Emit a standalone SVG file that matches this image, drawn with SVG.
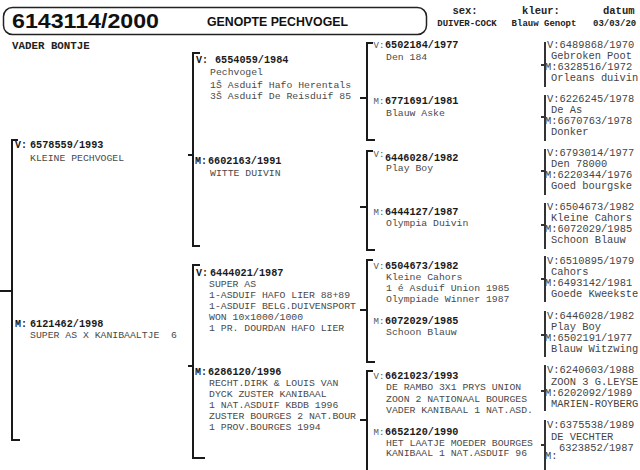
<svg xmlns="http://www.w3.org/2000/svg" width="640" height="470" viewBox="0 0 640 470">
<style>
.bg{fill:#fff}
.hb{font-family:"Liberation Sans",Arial,sans-serif;font-weight:bold;fill:#111}
.m{font-family:"Liberation Mono","Courier New",monospace}
.hd{font-weight:bold;font-size:10.5px;fill:#222}
.hv{font-weight:bold;font-size:9px;fill:#222}
.vb{font-weight:bold;font-size:10px;fill:#1a1a1a}
.n{font-weight:bold;font-size:10.2px;fill:#1a1a1a}
.t{font-size:9.8px;fill:#4a4a4a}
.l{font-size:9px;fill:#555}
.c4{font-size:10.4px;fill:#444}
.br{fill:none;stroke:#1a1a1a;stroke-width:2}
.br4{fill:none;stroke:#333;stroke-width:2}
</style>
<rect class="bg" x="0" y="0" width="640" height="470"/>
<g id="header">
<rect x="3.5" y="7.5" width="423" height="27" rx="9" fill="none" stroke="#222" stroke-width="1.5"/>
<text class="hb" x="12" y="27.5" font-size="20" textLength="147" lengthAdjust="spacingAndGlyphs">6143114/2000</text>
<text class="hb" x="207" y="26" font-size="13" textLength="141" lengthAdjust="spacingAndGlyphs">GENOPTE PECHVOGEL</text>
<text class="m hd" x="465" y="14" text-anchor="middle">sex:</text>
<text class="m hv" x="467" y="26" text-anchor="middle">DUIVER-COCK</text>
<text class="m hd" x="541" y="14" text-anchor="middle">kleur:</text>
<text class="m hv" x="544" y="26" text-anchor="middle">Blauw Genopt</text>
<text class="m hd" x="603" y="14">datum</text>
<text class="m hv" x="593" y="26">03/03/20</text>
<text class="m" x="12" y="49" font-size="10.8" font-weight="bold" fill="#222">VADER BONTJE</text>
</g>
<g id="connectors">
<path class="br" d="M18,140 H12 V440 H20 M0,291 H12"/>
<path class="br" d="M200,53 H193 V246 H200 M188,155 H193"/>
<path class="br" d="M200,265 H193 V458 H205 M188,366 H193"/>
<path class="br" d="M373,43 H367 V140 H375 M360,98 H367"/>
<path class="br" d="M373,151 H367 V250 H375 M360,207 H367"/>
<path class="br" d="M373,260 H367 V362 H375 M360,310 H367"/>
<path class="br" d="M373,371 H367 V472 M360,420 H367"/>
<path class="br4" d="M545,42 V87 M541,65 H545"/>
<path class="br4" d="M545,95 V141 M541,117 H545"/>
<path class="br4" d="M545,149 V195 M541,171 H545"/>
<path class="br4" d="M545,203 V249 M541,225 H545"/>
<path class="br4" d="M545,256 V302 M541,279 H545"/>
<path class="br4" d="M545,311 V357 M541,335 H545"/>
<path class="br4" d="M545,365 V411 M541,391 H545"/>
<path class="br4" d="M545,420 V472 M541,445 H545"/>
</g>
<g id="n-v1">
<text class="m vb" x="15" y="148">V:</text><text class="m n" x="30" y="148">6578559/1993</text>
<text class="m t" x="30" y="160.5">KLEINE PECHVOGEL</text>
</g>
<g id="n-m1">
<text class="m vb" x="15" y="327">M:</text><text class="m n" x="30" y="327">6121462/1998</text>
<text class="m t" x="30" y="338" xml:space="preserve">SUPER AS X KANIBAALTJE  6</text>
</g>
<g id="n-vv">
<text class="m vb" x="196" y="63">V:</text><text class="m n" x="215" y="63">6554059/1984</text>
<text class="m t" x="210" y="75">Pechvogel</text>
<text class="m t" x="210" y="87.5">1Š Asduif Hafo Herentals</text>
<text class="m t" x="210" y="98.5">3Š Asduif De Reisduif 85</text>
</g>
<g id="n-vm">
<text class="m vb" x="195" y="164">M:</text><text class="m n" x="208" y="164">6602163/1991</text>
<text class="m t" x="210" y="176">WITTE DUIVIN</text>
</g>
<g id="n-mv">
<text class="m vb" x="196" y="276">V:</text><text class="m n" x="210" y="276">6444021/1987</text>
<text class="m t" x="209" y="286.5">SUPER AS</text>
<text class="m t" x="209" y="297.5">1-ASDUIF HAFO LIER 88+89</text>
<text class="m t" x="209" y="308.5">1-ASDUIF BELG.DUIVENSPORT</text>
<text class="m t" x="209" y="319.5">WON 10x1000/1000</text>
<text class="m t" x="209" y="330.5">1 PR. DOURDAN HAFO LIER</text>
</g>
<g id="n-mm">
<text class="m vb" x="195" y="375">M:</text><text class="m n" x="208" y="375">6286120/1996</text>
<text class="m t" x="209" y="386">RECHT.DIRK &amp; LOUIS VAN</text>
<text class="m t" x="209" y="397">DYCK ZUSTER KANIBAAL</text>
<text class="m t" x="209" y="408">1 NAT.ASDUIF KBDB 1996</text>
<text class="m t" x="209" y="419">ZUSTER BOURGES 2 NAT.BOUR</text>
<text class="m t" x="209" y="430">1 PROV.BOURGES 1994</text>
</g>
<g id="n-vvv">
<text class="m l" x="373.5" y="48">V:</text><text class="m n" x="385" y="48">6502184/1977</text>
<text class="m t" x="386" y="60">Den 184</text>
</g>
<g id="n-vvm">
<text class="m l" x="373.5" y="104">M:</text><text class="m n" x="385" y="104">6771691/1981</text>
<text class="m t" x="386" y="115.5">Blauw Aske</text>
</g>
<g id="n-vmv">
<text class="m l" x="373.5" y="157">V:</text><text class="m n" x="385" y="161">6446028/1982</text>
<text class="m t" x="386" y="171">Play Boy</text>
</g>
<g id="n-vmm">
<text class="m l" x="373.5" y="215">M:</text><text class="m n" x="385" y="215">6444127/1987</text>
<text class="m t" x="386" y="226">Olympia Duivin</text>
</g>
<g id="n-mvv">
<text class="m l" x="373.5" y="269">V:</text><text class="m n" x="385" y="269">6504673/1982</text>
<text class="m t" x="386" y="280">Kleine Cahors</text>
<text class="m t" x="386" y="291">1 é Asduif Union 1985</text>
<text class="m t" x="386" y="302">Olympiade Winner 1987</text>
</g>
<g id="n-mvm">
<text class="m l" x="373.5" y="324">M:</text><text class="m n" x="385" y="324">6072029/1985</text>
<text class="m t" x="386" y="334.5">Schoon Blauw</text>
</g>
<g id="n-mmv">
<text class="m l" x="373.5" y="379">V:</text><text class="m n" x="385" y="379">6621023/1993</text>
<text class="m t" x="386" y="390">DE RAMBO 3X1 PRYS UNION</text>
<text class="m t" x="386" y="401.5">ZOON 2 NATIONAAL BOURGES</text>
<text class="m t" x="386" y="412.5">VADER KANIBAAL 1 NAT.ASD.</text>
</g>
<g id="n-mmm">
<text class="m l" x="373.5" y="435">M:</text><text class="m n" x="385" y="435">6652120/1990</text>
<text class="m t" x="386" y="445.5">HET LAATJE MOEDER BOURGES</text>
<text class="m t" x="386" y="456">KANIBAAL 1 NAT.ASDUIF 96</text>
</g>
<g id="g4-1">
<text class="m c4" x="547" y="48">V:6489868/1970</text>
<text class="m c4" x="551" y="59">Gebroken Poot</text>
<text class="m c4" x="545" y="70">M:6328516/1972</text>
<text class="m c4" x="551" y="81">Orleans duivin</text>
</g>
<g id="g4-2">
<text class="m c4" x="547" y="102">V:6226245/1978</text>
<text class="m c4" x="551" y="113">De As</text>
<text class="m c4" x="545" y="124">M:6670763/1978</text>
<text class="m c4" x="551" y="135">Donker</text>
</g>
<g id="g4-3">
<text class="m c4" x="547" y="156">V:6793014/1977</text>
<text class="m c4" x="551" y="167">Den 78000</text>
<text class="m c4" x="545" y="178">M:6220344/1976</text>
<text class="m c4" x="551" y="189">Goed bourgske</text>
</g>
<g id="g4-4">
<text class="m c4" x="547" y="210">V:6504673/1982</text>
<text class="m c4" x="551" y="221">Kleine Cahors</text>
<text class="m c4" x="545" y="232">M:6072029/1985</text>
<text class="m c4" x="551" y="243">Schoon Blauw</text>
</g>
<g id="g4-5">
<text class="m c4" x="547" y="264">V:6510895/1979</text>
<text class="m c4" x="551" y="275">Cahors</text>
<text class="m c4" x="545" y="286">M:6493142/1981</text>
<text class="m c4" x="551" y="297">Goede Kweekste</text>
</g>
<g id="g4-6">
<text class="m c4" x="547" y="319">V:6446028/1982</text>
<text class="m c4" x="551" y="330">Play Boy</text>
<text class="m c4" x="545" y="341">M:6502191/1977</text>
<text class="m c4" x="551" y="352">Blauw Witzwing</text>
</g>
<g id="g4-7">
<text class="m c4" x="547" y="373">V:6240603/1988</text>
<text class="m c4" x="551" y="385">ZOON 3 G.LEYSE</text>
<text class="m c4" x="545" y="396">M:6202092/1989</text>
<text class="m c4" x="551" y="407">MARIEN-ROYBERG</text>
</g>
<g id="g4-8">
<text class="m c4" x="547" y="428">V:6375538/1989</text>
<text class="m c4" x="551" y="439.5">DE VECHTER</text>
<text class="m c4" x="559" y="451">6323852/1987</text>
<text class="m c4" x="545" y="459">M:</text>
</g>
</svg>
